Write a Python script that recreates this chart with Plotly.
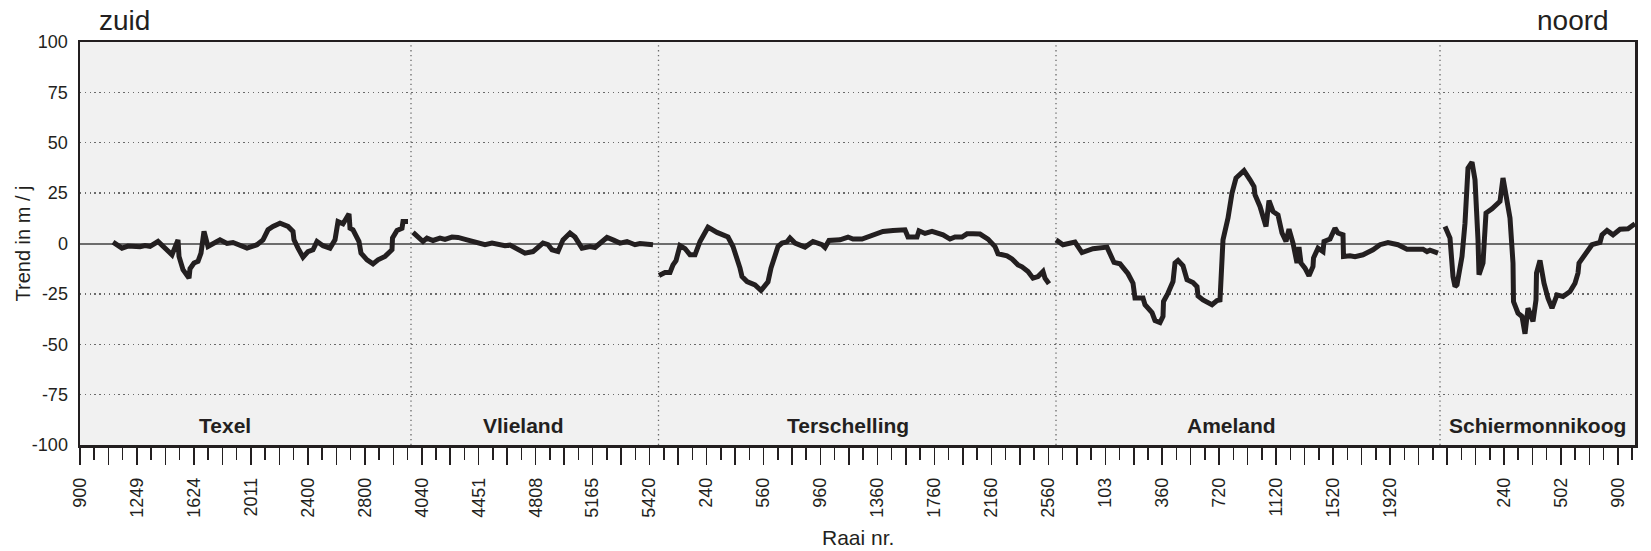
import plotly.graph_objects as go

# ---------------- data (x = position along coast, y = trend in m/j) ----------------
texel_x = [33, 42, 48, 60, 65, 70, 78, 87, 92, 98, 99, 103, 109, 110, 114, 118, 121, 124, 128,
           140, 147, 153, 167, 177, 183, 188, 193, 200, 208, 213, 214, 218, 223, 228, 233, 237,
           243, 250, 255, 258, 263, 269, 270, 273, 279, 281, 287, 293, 298, 305, 312, 312.5, 317,
           322, 323, 328]
texel_y = [0.7, -2.3, -1.3, -1.6, -1.0, -1.4, 1.0, -3.1, -5.6, 1.8, -6.4, -13.0, -17.2, -12.5,
           -9.7, -8.9, -4.8, 6.0, -1.5, 1.8, 0.0, 0.5, -2.3, -0.6, 1.8, 6.8, 8.5, 10.1, 8.5, 6.0,
           1.8, -2.3, -6.8, -4.0, -3.1, 1.0, -1.1, -2.3, 1.8, 10.9, 9.8, 14.7, 7.6, 6.8, 1.0, -4.8,
           -8.1, -10.1, -8.1, -6.4, -3.1, 2.7, 6.5, 7.6, 10.9, 10.9]

vlieland_x = [333, 343, 347, 353, 360, 365, 372, 378, 387, 400, 405, 412, 418, 425, 430, 435, 445,
              453, 463, 468, 472, 478, 483, 490, 495, 502, 510, 515, 520, 527, 533, 540, 547, 555,
              560, 567, 573]
vlieland_y = [5.5, 1.0, 2.7, 1.5, 2.7, 2.0, 3.2, 3.0, 1.8, 0.5, -0.6, 0.2, -0.5, -1.1, -0.8, -2.3,
              -4.8, -4.0, 0.2, -0.6, -3.1, -4.0, 1.8, 5.2, 3.2, -2.3, -1.5, -2.0, 0.2, 3.0, 1.8,
              0.2, 1.0, -0.6, 0.0, -0.1, -0.6]

terschelling_x = [579, 585, 590, 593, 596, 600, 605, 610, 615, 620, 628, 637, 648, 653, 660, 662,
                  667, 675, 681, 685, 688, 691, 695, 698, 702, 707, 710, 715, 725, 733, 742, 745,
                  749, 760, 768, 773, 782, 790, 797, 803, 813, 825, 828, 837, 839, 845, 852, 858,
                  863, 870, 875, 882, 887, 893, 900, 908, 915, 918, 927, 932, 938, 942, 948, 953,
                  958, 963, 965, 969]
terschelling_y = [-15.9, -14.4, -14.4, -10.6, -8.5, -1.0, -2.5, -5.6, -5.6, 1.0, 8.1, 5.5, 3.2,
                  -1.5, -12.2, -16.4, -18.9, -20.5, -23.3, -20.5, -19.0, -12.2, -7.0, -1.5, 0.2,
                  0.8, 2.7, 0.2, -1.8, 1.0, -0.6, -2.0, 1.5, 1.8, 3.2, 2.2, 2.2, 3.5, 4.8, 6.0,
                  6.5, 6.8, 3.2, 3.2, 6.3, 5.0, 6.0, 5.3, 4.3, 2.2, 3.2, 3.2, 4.8, 4.8, 4.7, 2.2,
                  -1.5, -5.1, -6.1, -7.7, -10.6, -11.6, -13.9, -17.2, -16.4, -13.9, -17.2, -20.0]

ameland_x = [976, 983, 995, 1002, 1013, 1027, 1034, 1040, 1048, 1053, 1055, 1063, 1065, 1072, 1075,
             1080, 1083, 1083.5, 1088, 1093, 1095, 1098, 1103, 1107, 1113, 1117, 1118, 1123, 1132,
             1137, 1140, 1142, 1143, 1148, 1152, 1156, 1164, 1170, 1174, 1175, 1180, 1186, 1189,
             1193, 1198, 1202, 1206, 1209, 1213, 1217, 1219, 1221, 1225, 1229, 1233, 1233.5, 1238,
             1243, 1244, 1250, 1255, 1258, 1263, 1263.5, 1270, 1275, 1283, 1293, 1300, 1308, 1318,
             1327, 1343, 1347, 1350, 1358]
ameland_y = [1.8, -0.6, 0.7, -4.5, -2.6, -1.8, -9.4, -10.1, -15.0, -19.7, -27.1, -27.1, -30.4,
             -34.3, -38.2, -39.2, -36.2, -28.8, -24.6, -18.9, -9.7, -8.4, -11.1, -18.0, -19.4,
             -21.4, -26.0, -28.0, -30.4, -28.3, -28.0, -13.1, 1.8, 12.6, 25.0, 32.5, 36.2, 31.6,
             28.3, 24.2, 18.4, 8.4, 21.3, 15.9, 14.2, 5.2, 1.0, 7.1, 0.2, -9.7, -1.8, -9.7, -12.2,
             -16.0, -11.4, -7.2, -2.3, -4.0, 1.0, 2.2, 7.6, 5.2, 4.3, -6.4, -6.1, -6.5, -5.6, -3.1,
             -0.6, 0.5, -0.6, -2.8, -2.8, -4.0, -3.3, -4.8]

schier_x = [1365, 1370, 1373, 1375, 1377, 1382, 1385, 1388, 1392, 1395, 1398, 1399, 1403, 1406,
            1412, 1417, 1420, 1423, 1426, 1430, 1433, 1433.5, 1438, 1442, 1445, 1448, 1453, 1456,
            1456.5, 1460, 1464, 1468, 1472, 1477, 1483, 1490, 1495, 1498, 1499, 1505, 1512, 1520,
            1522, 1527, 1533, 1540, 1548, 1555]
schier_y = [8.4, 2.7, -16.4, -21.4, -20.5, -6.4, 10.1, 37.4, 40.4, 31.6, 1.8, -15.5, -9.7, 15.1,
            17.2, 19.2, 20.9, 32.5, 24.2, 12.6, -9.7, -28.8, -34.6, -36.2, -44.8, -32.1, -38.7,
            -28.0, -14.7, -8.4, -19.7, -27.1, -32.1, -25.5, -26.3, -23.8, -19.7, -14.7, -9.7,
            -5.6, -0.6, 0.5, 4.3, 6.5, 4.3, 7.1, 7.3, 9.8]

islands = ["Texel", "Vlieland", "Terschelling", "Ameland", "Schiermonnikoog"]
island_bounds = [331, 578.5, 976, 1360]          # positions of the dotted separators
island_label_x = [144.6, 443, 768, 1151.5, 1457.8]

# tick labels (every 4th tick; ticks every TICK_STEP units)
tick_labels = ["900", "1249", "1624", "2011", "2400", "2800", "4040", "4451", "4808", "5165",
               "5420", "240", "560", "960", "1360", "1760", "2160", "2560", "103", "360", "720",
               "1120", "1520", "1920", "", "240", "502", "900"]
TICK_STEP = 14.24
X_MAX = 1555
y_ticks = [100, 75, 50, 25, 0, -25, -50, -75, -100]
y_tick_text = [str(v) for v in y_ticks]   # plain hyphen minus like the reference

INK = "#231f20"
FONT = "Liberation Sans, Arial, sans-serif"

fig = go.Figure()
for xs, ys in [(texel_x, texel_y), (vlieland_x, vlieland_y), (terschelling_x, terschelling_y),
               (ameland_x, ameland_y), (schier_x, schier_y)]:
    fig.add_trace(go.Scatter(x=xs, y=ys, mode="lines", showlegend=False,
                             line=dict(color=INK, width=5), hoverinfo="skip"))

n_ticks = int(X_MAX / TICK_STEP) + 1
major_vals = [k * TICK_STEP for k in range(0, n_ticks, 2)]
major_text = [tick_labels[k // 4] if k % 4 == 0 and k // 4 < len(tick_labels) else ""
              for k in range(0, n_ticks, 2)]
minor_vals = [k * TICK_STEP for k in range(1, n_ticks, 2)]

for b in island_bounds:
    fig.add_shape(type="line", x0=b, x1=b, y0=0, y1=1, xref="x", yref="paper",
                  line=dict(color="#6a6a6a", width=1.3, dash="1.3px,3.5px"), layer="below")

for name, lx in zip(islands, island_label_x):
    fig.add_annotation(x=lx, y=-90.3, text="<b>%s</b>" % name, showarrow=False,
                       font=dict(size=21, color=INK, family=FONT), xanchor="center", yanchor="middle")

fig.add_annotation(xref="paper", yref="paper", x=(97 - 80) / X_MAX, y=1 + (42 - 20.8) / 403,
                   text="zuid", showarrow=False, xanchor="left", yanchor="middle",
                   font=dict(size=28, color=INK, family=FONT))
fig.add_annotation(xref="paper", yref="paper", x=(1611 - 80) / X_MAX, y=1 + (42 - 20.8) / 403,
                   text="noord", showarrow=False, xanchor="right", yanchor="middle",
                   font=dict(size=28, color=INK, family=FONT))
fig.add_annotation(xref="paper", yref="paper", x=(22 - 80) / X_MAX, y=0.5,
                   text="Trend in m / j", showarrow=False, textangle=-90,
                   xanchor="center", yanchor="middle",
                   font=dict(size=20, color=INK, family=FONT))
fig.add_annotation(xref="paper", yref="paper", x=0.5, y=-(537 - 445) / 403,
                   text="Raai nr.", showarrow=False, xanchor="center", yanchor="middle",
                   font=dict(size=21, color=INK, family=FONT))

fig.update_xaxes(range=[0, X_MAX], tickmode="array", tickvals=major_vals, ticktext=major_text,
                 tickangle=-90, ticks="outside", ticklen=17, tickwidth=1.5, tickcolor=INK,
                 ticklabelstandoff=6,
                 minor=dict(tickmode="array", tickvals=minor_vals, ticks="outside", ticklen=12,
                            tickwidth=1.5, tickcolor=INK, showgrid=False),
                 showgrid=False, zeroline=False, showline=True, mirror=True,
                 linecolor=INK, linewidth=2.5,
                 tickfont=dict(size=18, color=INK, family=FONT))
fig.update_yaxes(range=[-100, 100], tickmode="array", tickvals=y_ticks, ticktext=y_tick_text,
                 ticks="", showgrid=True, gridcolor="#6a6a6a", gridwidth=1.3,
                 griddash="1.3px,3.5px",
                 zeroline=True, zerolinecolor="#6d6d6d", zerolinewidth=2,
                 showline=True, mirror=True, linecolor=INK, linewidth=2.5,
                 ticklabelstandoff=6,
                 tickfont=dict(size=18, color=INK, family=FONT))

fig.update_layout(width=1651, height=551, margin=dict(l=80, r=16, t=42, b=106),
                  plot_bgcolor="#f1f1f1", paper_bgcolor="white",
                  font=dict(family=FONT, color=INK), hovermode=False)

fig.write_html("out.html", config={"displayModeBar": False, "staticPlot": True},
               post_script="document.body.style.margin='0';document.body.style.overflow='hidden';")
